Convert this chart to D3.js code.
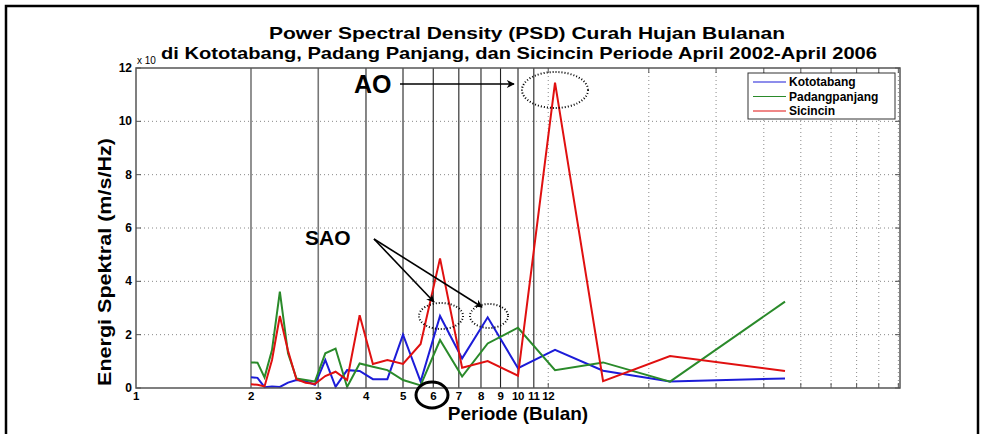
<!DOCTYPE html>
<html>
<head>
<meta charset="utf-8">
<script src="https://cdn.jsdelivr.net/npm/d3@7"></script>
<style>
  body { margin: 0; background: #fff; }
  svg { display: block; font-family: "Liberation Sans", Arial, sans-serif; }
</style>
</head>
<body>
<svg id="chart" width="987" height="434"></svg>
<script>
'use strict';

// Periods (months) of the spectral estimates
const periods = [2, 2.08, 2.17, 2.27, 2.38, 2.5, 2.63, 2.78, 2.94, 3.13, 3.33, 3.57, 3.85,
  4.17, 4.55, 5, 5.56, 6.25, 7.14, 8.33, 10, 12.5, 16.7, 25, 50];

// Spectral energy (x 10^n) per station
const kototabang = [0.40, 0.38, 0.03, 0.06, 0.04, 0.2, 0.3, 0.25, 0.12, 1.05, 0.04, 0.67, 0.64,
  0.33, 0.33, 2.0, 0.24, 2.7, 1.11, 2.65, 0.74, 1.43, 0.65, 0.24, 0.36];
const padangpanjang = [0.96, 0.95, 0.40, 1.42, 3.61, 1.3, 0.36, 0.3, 0.24, 1.3, 1.48, 0.04, 0.92,
  0.8, 0.67, 0.3, 0.1, 1.8, 0.43, 1.67, 2.26, 0.67, 0.96, 0.24, 3.24];
const sicincin = [0.14, 0.12, 0.06, 1.05, 2.7, 1.4, 0.33, 0.2, 0.15, 0.45, 0.61, 0.3, 2.73,
  0.9, 1.05, 0.9, 1.65, 4.86, 0.76, 1.01, 0.46, 11.45, 0.26, 1.2, 0.64];

const seriesNames = ['Kototabang', 'Padangpanjang', 'Sicincin'];
const seriesColors = ['#1c1cd8', '#2a8a2a', '#e01010'];

// Tick labels and grid positions
const xTickLabels = [1, 2, 3, 4, 5, 6, 7, 8, 9, 10, 11, 12];
const periodLines = [2, 3, 4, 5, 6, 7, 8, 9, 10, 11];
const xGridDotted = [12, 22, 33, 44, 55, 66, 77, 88, 99];
const yTicks = [0, 2, 4, 6, 8, 10, 12];

const titleLines = ['Power Spectral Density (PSD) Curah Hujan Bulanan',
  'di Kototabang, Padang Panjang, dan Sicincin Periode April 2002-April 2006'];

let svg = d3.select('#chart'),
  plot = {left: 136, right: 900, top: 68, bottom: 388};

let x = d3.scaleLog().domain([1, 100]).range([plot.left, plot.right]),
  y = d3.scaleLinear().domain([0, 12]).range([plot.bottom, plot.top]);

// Outer frame
svg.append('rect')
  .attr('x', 6).attr('y', 6)
  .attr('width', 972).attr('height', 440)
  .attr('fill', 'none')
  .attr('stroke', '#000')
  .attr('stroke-width', 2.5);

// Arrow marker
svg.append('defs').append('marker')
  .attr('id', 'arrow')
  .attr('viewBox', '0 0 10 10')
  .attr('refX', 9).attr('refY', 5)
  .attr('markerWidth', 11).attr('markerHeight', 8)
  .attr('markerUnits', 'userSpaceOnUse')
  .attr('orient', 'auto')
  .append('path')
  .attr('d', 'M0,0 L10,5 L0,10 L3,5 Z')
  .attr('fill', '#000');

// Dotted grid
svg.append('g').selectAll('line')
  .data(yTicks.filter(d => d > 0 && d < 12))
  .join('line')
  .attr('x1', plot.left).attr('x2', plot.right)
  .attr('y1', d => y(d)).attr('y2', d => y(d))
  .attr('stroke', '#888')
  .attr('stroke-dasharray', '1,3');

svg.append('g').selectAll('line')
  .data(xGridDotted)
  .join('line')
  .attr('x1', d => x(d)).attr('x2', d => x(d))
  .attr('y1', plot.top).attr('y2', plot.bottom)
  .attr('stroke', '#888')
  .attr('stroke-dasharray', '1,3');

// Small ticks on the box
let tickG = svg.append('g').attr('stroke', '#555');
xGridDotted.forEach(function(d) {
  tickG.append('line').attr('x1', x(d)).attr('x2', x(d)).attr('y1', plot.bottom).attr('y2', plot.bottom - 5);
  tickG.append('line').attr('x1', x(d)).attr('x2', x(d)).attr('y1', plot.top).attr('y2', plot.top + 5);
});
yTicks.forEach(function(d) {
  tickG.append('line').attr('x1', plot.left).attr('x2', plot.left + 5).attr('y1', y(d)).attr('y2', y(d));
  tickG.append('line').attr('x1', plot.right).attr('x2', plot.right - 5).attr('y1', y(d)).attr('y2', y(d));
});

// Period marker lines
svg.append('g').selectAll('line')
  .data(periodLines)
  .join('line')
  .attr('x1', d => x(d)).attr('x2', d => x(d))
  .attr('y1', plot.top).attr('y2', plot.bottom)
  .attr('stroke', d => d < 4 ? '#777' : '#222')
  .attr('stroke-width', d => d < 4 ? 1.6 : 1.1);

// Series lines
let line = d3.line()
  .x((d, i) => x(periods[i]))
  .y(d => y(d));

[kototabang, padangpanjang, sicincin].forEach(function(vals, i) {
  svg.append('path')
    .datum(vals)
    .attr('fill', 'none')
    .attr('stroke', seriesColors[i])
    .attr('stroke-width', 2)
    .attr('stroke-linejoin', 'miter')
    .attr('d', line);
});

// Axes box
svg.append('rect')
  .attr('x', plot.left).attr('y', plot.top)
  .attr('width', plot.right - plot.left).attr('height', plot.bottom - plot.top)
  .attr('fill', 'none')
  .attr('stroke', '#555')
  .attr('stroke-width', 1.5);

// Tick labels
svg.append('g').selectAll('text')
  .data(yTicks)
  .join('text')
  .attr('x', plot.left - 4)
  .attr('y', d => y(d) + 4)
  .attr('text-anchor', 'end')
  .attr('font-size', 12)
  .attr('font-weight', 'bold')
  .text(d => d);

svg.append('g').selectAll('text')
  .data(xTickLabels)
  .join('text')
  .attr('x', d => x(d))
  .attr('y', 400)
  .attr('text-anchor', 'middle')
  .attr('font-size', 11.5)
  .attr('font-weight', 'bold')
  .attr('letter-spacing', -0.3)
  .text(d => d);

svg.append('text')
  .attr('x', 137).attr('y', 64)
  .attr('font-size', 10)
  .text('x 10');

// Axis titles
svg.append('text')
  .attr('x', 518).attr('y', 420)
  .attr('text-anchor', 'middle')
  .attr('font-size', 19)
  .attr('font-weight', 'bold')
  .text('Periode (Bulan)');

svg.append('text')
  .attr('transform', 'translate(111,262) rotate(-90)')
  .attr('text-anchor', 'middle')
  .attr('font-size', 18)
  .attr('font-weight', 'bold')
  .attr('textLength', 248)
  .attr('lengthAdjust', 'spacingAndGlyphs')
  .text('Energi Spektral (m/s/Hz)');

// Title
svg.append('text')
  .attr('x', 527).attr('y', 39)
  .attr('text-anchor', 'middle')
  .attr('font-size', 17)
  .attr('font-weight', 'bold')
  .attr('textLength', 516)
  .attr('lengthAdjust', 'spacingAndGlyphs')
  .text(titleLines[0]);
svg.append('text')
  .attr('x', 519).attr('y', 59)
  .attr('text-anchor', 'middle')
  .attr('font-size', 17)
  .attr('font-weight', 'bold')
  .attr('textLength', 716)
  .attr('lengthAdjust', 'spacingAndGlyphs')
  .text(titleLines[1]);

// Legend
let legend = svg.append('g');
legend.append('rect')
  .attr('x', 748).attr('y', 73)
  .attr('width', 147).attr('height', 46)
  .attr('fill', '#fff')
  .attr('stroke', '#333');
seriesNames.forEach(function(name, i) {
  let ly = 82 + i * 14.5;
  legend.append('line')
    .attr('x1', 753).attr('x2', 786)
    .attr('y1', ly).attr('y2', ly)
    .attr('stroke', seriesColors[i])
    .attr('stroke-width', 1.2);
  legend.append('text')
    .attr('x', 789).attr('y', ly + 4)
    .attr('font-size', 12)
    .attr('font-weight', 'bold')
    .text(name);
});

// Annotations: AO
svg.append('text')
  .attr('x', 354).attr('y', 93)
  .attr('font-size', 25)
  .attr('font-weight', 'bold')
  .text('AO');
svg.append('line')
  .attr('x1', 400).attr('y1', 84).attr('x2', 514).attr('y2', 84)
  .attr('stroke', '#000').attr('stroke-width', 1.3)
  .attr('marker-end', 'url(#arrow)');
svg.append('ellipse')
  .attr('cx', 555).attr('cy', 90).attr('rx', 33).attr('ry', 18)
  .attr('fill', 'none').attr('stroke', '#000')
  .attr('stroke-width', 2).attr('stroke-dasharray', '1,2');

// Annotations: SAO
svg.append('text')
  .attr('x', 305).attr('y', 245)
  .attr('font-size', 21)
  .attr('font-weight', 'bold')
  .text('SAO');
[[434, 302], [482, 307]].forEach(function(p) {
  svg.append('line')
    .attr('x1', 374).attr('y1', 239).attr('x2', p[0]).attr('y2', p[1])
    .attr('stroke', '#000').attr('stroke-width', 1.6)
    .attr('marker-end', 'url(#arrow)');
});
svg.append('ellipse')
  .attr('cx', 441).attr('cy', 316).attr('rx', 22).attr('ry', 13)
  .attr('fill', 'none').attr('stroke', '#000')
  .attr('stroke-width', 2).attr('stroke-dasharray', '1,2');
svg.append('ellipse')
  .attr('cx', 489).attr('cy', 316).attr('rx', 19).attr('ry', 12)
  .attr('fill', 'none').attr('stroke', '#000')
  .attr('stroke-width', 2).attr('stroke-dasharray', '1,2');

// Circle round the 6-month label
svg.append('ellipse')
  .attr('cx', 432).attr('cy', 395).attr('rx', 16).attr('ry', 13)
  .attr('fill', 'none').attr('stroke', '#000')
  .attr('stroke-width', 3);
</script>
</body>
</html>
